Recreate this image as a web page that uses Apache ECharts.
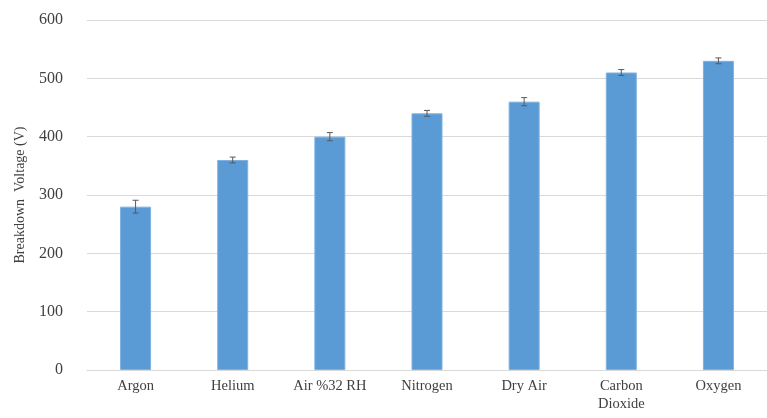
<!DOCTYPE html>
<html>
<head>
<meta charset="utf-8">
<script src="https://cdn.jsdelivr.net/npm/echarts@6/dist/echarts.min.js"></script>
<style>
  html, body { margin: 0; padding: 0; background: #fff; }
  #chart { width: 767px; height: 418px; }
</style>
</head>
<body>
<div id="chart"></div>
<script>
// gases and measured breakdown voltage
var categories = ["Argon", "Helium", "Air %32 RH", "Nitrogen", "Dry Air", "Carbon\nDioxide", "Oxygen"];
var voltage = [280, 360, 400, 440, 460, 510, 530];
var voltageErr = [11, 5, 7, 5, 7, 5, 5];
var yTicks = [0, 100, 200, 300, 400, 500, 600];

var chart = echarts.init(document.getElementById("chart"));

var errData = voltage.map(function (v, i) {
  return [i, v - voltageErr[i], v + voltageErr[i]];
});

chart.setOption({
  animation: false,
  textStyle: { fontFamily: "Liberation Serif" },
  grid: { left: 87, right: -10, top: 20, bottom: 48 },
  xAxis: {
    type: "category",
    data: categories,
    axisLine: { lineStyle: { color: "#d9d9d9" } },
    axisTick: { show: false },
    axisLabel: { interval: 0, hideOverlap: false, color: "#404040", fontSize: 14.5, margin: 7, lineHeight: 18, fontFamily: "Liberation Serif" }
  },
  yAxis: {
    type: "value",
    min: yTicks[0],
    max: yTicks[yTicks.length - 1],
    interval: 100,
    name: "Breakdown  Voltage (V)",
    nameLocation: "middle",
    nameGap: 60,
    nameTextStyle: { color: "#404040", fontSize: 14, fontFamily: "Liberation Serif" },
    axisLine: { show: false },
    axisTick: { show: false },
    axisLabel: { color: "#404040", fontSize: 16, margin: 24, fontFamily: "Liberation Serif" },
    splitLine: { lineStyle: { color: "#d9d9d9", width: 1 } }
  },
  series: [
    {
      type: "bar",
      data: voltage,
      barWidth: 31,
      itemStyle: { color: "#5b9bd5", borderColor: "#7fb1e0", borderWidth: 1 }
    },
    {
      type: "custom",
      data: errData,
      z: 10,
      renderItem: function (params, api) {
        var x = api.value(0);
        var lo = api.coord([x, api.value(1)]);
        var hi = api.coord([x, api.value(2)]);
        var hw = 3;
        var st = { stroke: "#595959", lineWidth: 1 };
        return {
          type: "group",
          children: [
            { type: "line", shape: { x1: lo[0], y1: lo[1], x2: hi[0], y2: hi[1] }, style: st },
            { type: "line", shape: { x1: hi[0] - hw, y1: hi[1], x2: hi[0] + hw, y2: hi[1] }, style: st },
            { type: "line", shape: { x1: lo[0] - hw, y1: lo[1], x2: lo[0] + hw, y2: lo[1] }, style: st }
          ]
        };
      }
    }
  ]
});
</script>
</body>
</html>
